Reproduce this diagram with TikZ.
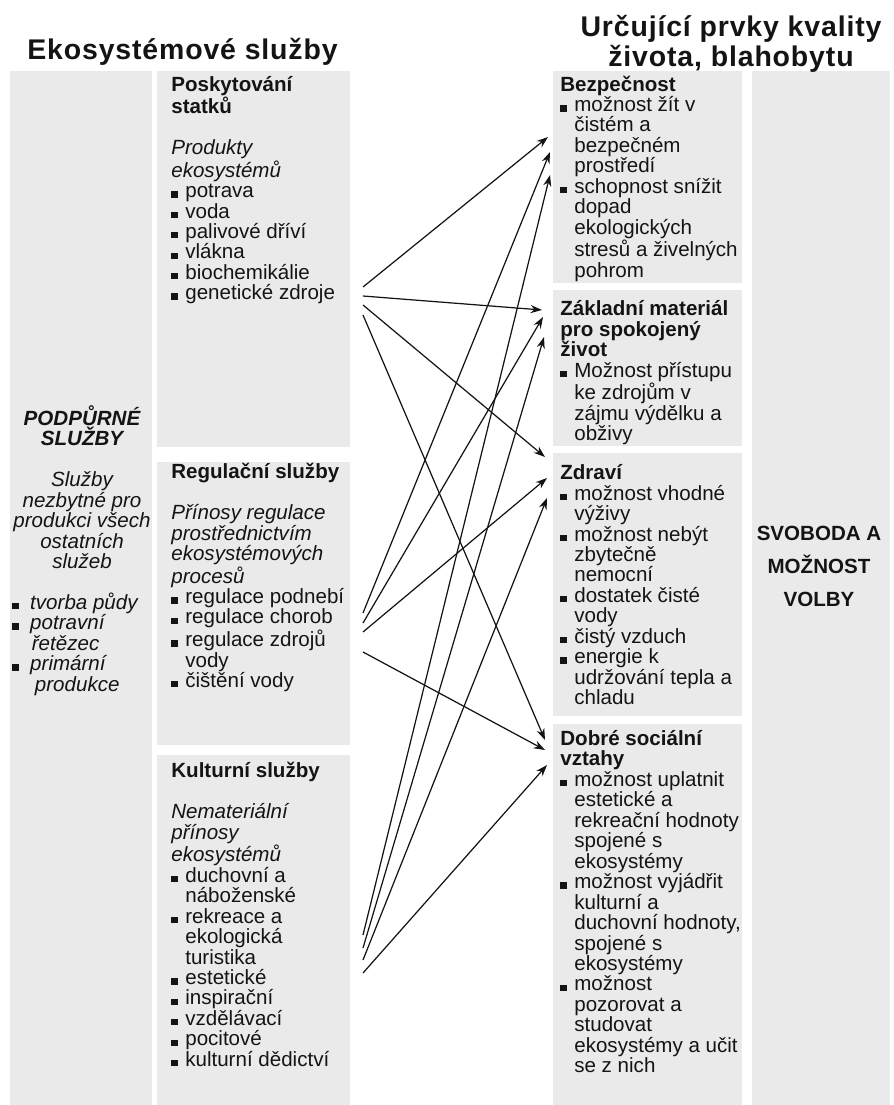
\documentclass[tikz,border=0pt]{standalone}
\usepackage{fontspec}
\setmainfont{Liberation Sans}
\newfontfamily\titlefont[LetterSpace=3]{Liberation Sans}
\usepackage{xcolor}
\definecolor{colPanel}{HTML}{EAEAEA}
\definecolor{colText}{HTML}{141414}
\usepackage{tikz}
\usetikzlibrary{arrows.meta, positioning}
\newcommand{\bodyfont}{\fontsize{11.7pt}{11.64pt}\selectfont}
\newcommand{\fl}{\rule{0pt}{11.4pt}}
\newcommand{\blt}{\makebox[0.68em][l]{\rule{0.34em}{0.31em}}}
\newcommand{\bltw}{\makebox[0.87em][l]{\rule{0.34em}{0.31em}}}
\newcommand{\ind}{\hspace*{0.68em}}
\tikzset{
    panel/.style={fill=colPanel, draw=none},
    txt/.style={
        anchor=north west, inner sep=0pt,
        align=left, text=colText,
        font=\bodyfont
    },
    maintitle/.style={
        anchor=north, inner sep=0pt,
        align=center, text=colText,
        font=\titlefont\bfseries\fontsize{16.2pt}{17.4pt}\selectfont
    },
    myarrow/.style={-{Stealth[length=6.5pt, width=4.6pt]}, line width=0.7pt, color=colText},
}

\begin{document}
\begin{tikzpicture}[x=0.02cm, y=-0.02cm]
    \useasboundingbox (0,0) rectangle (893,1105);

    % grey panels
    \fill[panel] (10,71) rectangle (152,1105);
    \fill[panel] (157,71) rectangle (350,447);
    \fill[panel] (157,462) rectangle (350,745);
    \fill[panel] (157,755) rectangle (350,1105);
    \fill[panel] (553,71) rectangle (742,283);
    \fill[panel] (553,290) rectangle (742,446);
    \fill[panel] (553,453) rectangle (742,716);
    \fill[panel] (553,724) rectangle (742,1105);
    \fill[panel] (752,71) rectangle (890,1105);

    % titles
    \node[maintitle] (ekoTitle) at (182.5,31.8)
          {\rule{0pt}{15.5pt}Ekosystémové služby};
    \node[maintitle] (lifeTitle) at (731,8.8)
          {\rule{0pt}{15.5pt}Určující prvky kvality\\života, blahobytu};

    % supporting services
    \node[txt, anchor=north, align=center, font=\bodyfont\itshape] (supp) at (82,405)
          {\fl\textbf{PODPŮRNÉ}\\\textbf{SLUŽBY}\\[\baselineskip]
           Služby\\nezbytné pro\\produkci všech\\ostatních\\služeb};
    \node[txt, font=\bodyfont\itshape] (suppList) at (12,589)
          {\fl\bltw tvorba půdy\\\bltw potravní\\\hspace*{0.95em}řetězec\\
           \bltw primární\\\hspace*{1.1em}produkce};

    % ecosystem services
    \node[txt] (prov) at (171,70.7)
          {\fl\textbf{Poskytování}\\\textbf{statků}\\[\baselineskip]
           \textit{Produkty}\\\textit{ekosystémů}\\
           \blt potrava\\\blt voda\\\blt palivové dříví\\\blt vlákna\\
           \blt biochemikálie\\\blt genetické zdroje};
    \node[txt] (reg) at (171,458.3)
          {\fl\textbf{Regulační služby}\\[\baselineskip]
           \textit{Přínosy regulace}\\\textit{prostřednictvím}\\
           \textit{ekosystémových}\\\textit{procesů}\\
           \blt regulace podnebí\\\blt regulace chorob\\\blt regulace zdrojů\\
           \ind vody\\\blt čištění vody};
    \node[txt] (kult) at (171,757.5)
          {\fl\textbf{Kulturní služby}\\[\baselineskip]
           \textit{Nemateriální}\\\textit{přínosy}\\\textit{ekosystémů}\\
           \blt duchovní a\\\ind náboženské\\\blt rekreace a\\\ind ekologická\\
           \ind turistika\\\blt estetické\\\blt inspirační\\\blt vzdělávací\\
           \blt pocitové\\\blt kulturní dědictví};

    % constituents of well-being
    \node[txt] (bez) at (560,70.7)
          {\fl\textbf{Bezpečnost}\\\blt možnost žít v\\\ind čistém a\\\ind bezpečném\\
           \ind prostředí\\\blt schopnost snížit\\\ind dopad\\\ind ekologických\\
           \ind stresů a živelných\\\ind pohrom};
    \node[txt] (zakl) at (560,295.6)
          {\fl\textbf{Základní materiál}\\\textbf{pro spokojený}\\\textbf{život}\\
           \blt Možnost přístupu\\\ind ke zdrojům v\\\ind zájmu výdělku a\\\ind obživy};
    \node[txt] (zdr) at (560,459.3)
          {\fl\textbf{Zdraví}\\\blt možnost vhodné\\\ind výživy\\\blt možnost nebýt\\
           \ind zbytečně\\\ind nemocní\\\blt dostatek čisté\\\ind vody\\
           \blt čistý vzduch\\\blt energie k\\\ind udržování tepla a\\\ind chladu};
    \node[txt] (soc) at (560,725.1)
          {\fl\textbf{Dobré sociální}\\\textbf{vztahy}\\\blt možnost uplatnit\\
           \ind estetické a\\\ind rekreační hodnoty\\\ind spojené s\\\ind ekosystémy\\
           \blt možnost vyjádřit\\\ind kulturní a\\\ind duchovní hodnoty,\\
           \ind spojené s\\\ind ekosystémy\\\blt možnost\\\ind pozorovat a\\
           \ind studovat\\\ind ekosystémy a učit\\\ind se z nich};

    \node[txt, anchor=north, align=center, font=\bfseries\fontsize{11.7pt}{18.8pt}\selectfont]
          (free) at (819,520) {\fl SVOBODA A\\MOŽNOST\\VOLBY};

    % arrow ends
    \coordinate (p1) at (363,287);
    \coordinate (p2) at (363,296);
    \coordinate (p3) at (363,305);
    \coordinate (p4) at (363,315);
    \coordinate (r1) at (363,613);
    \coordinate (r2) at (363,623);
    \coordinate (r3) at (363,632);
    \coordinate (r4) at (363,652);
    \coordinate (k1) at (363,935);
    \coordinate (k2) at (363,948);
    \coordinate (k3) at (363,960);
    \coordinate (k4) at (363,973);
    \coordinate (b1) at (548,137);
    \coordinate (b2) at (550,152);
    \coordinate (b3) at (550,175);
    \coordinate (z1) at (542,310);
    \coordinate (z2) at (543,317);
    \coordinate (z3) at (544,337);
    \coordinate (h1) at (545,457);
    \coordinate (h2) at (547,478);
    \coordinate (h3) at (547,498);
    \coordinate (s1) at (545,740);
    \coordinate (s2) at (545,750);
    \coordinate (s3) at (547,765);

    % every service feeds every constituent
    \foreach \s/\t in {p1/b1, p2/z1, p3/h1, p4/s1,
                       r1/b2, r2/z2, r3/h2, r4/s2,
                       k1/b3, k2/z3, k3/h3, k4/s3}
        \draw[myarrow] (\s) -- (\t);
\end{tikzpicture}
\end{document}
